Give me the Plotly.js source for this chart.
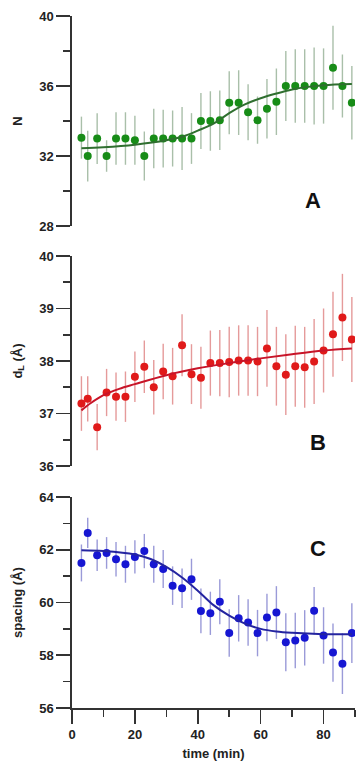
<!DOCTYPE html>
<html>
<head>
<meta charset="utf-8">
<script src="https://cdn.plot.ly/plotly-3.0.1.min.js"></script>
<style>html,body{margin:0;padding:0;background:#fff;}#chart{width:362px;height:761px;}</style>
</head>
<body>
<div id="chart"></div>
<script>
const time = [3,5,8,11,14,17,20,23,26,29,32,35,38,41,44,47,50,53,56,59,62,65,68,71,74,77,80,83,86,89];

const nValues = [33.05,32,33,32,33,33,32.9,32,33,33,33,33,33,34,34,34.05,35.05,35.05,34.5,34.05,34.7,35.1,36,36,36,36,36,37.05,36,35.05];
const nErr = [1.2,1.45,1.45,0.9,1.5,1.5,1.4,1.4,1.7,1.65,1.6,1.8,1.45,1.6,1.7,1.7,1.8,1.85,1.6,1.35,1.7,1.9,2.0,2.1,2.1,2.2,2.15,2.4,1.8,2.1];
const nFitTime = [3,10,20,30,35,40,45,50,55,60,65,70,75,80,89];
const nFit = [32.44,32.5,32.65,32.9,33.1,33.45,33.85,34.45,34.95,35.3,35.57,35.8,35.95,36.05,36.12];

const dlValues = [37.19,37.28,36.74,37.4,37.32,37.32,37.7,37.89,37.5,37.8,37.71,38.3,37.75,37.68,37.96,37.96,37.98,38.01,38.01,37.99,38.24,37.9,37.74,37.9,37.88,37.99,38.2,38.51,38.83,38.41];
const dlErr = [0.52,0.43,0.44,0.45,0.46,0.48,0.48,0.5,0.52,0.53,0.54,0.59,0.57,0.59,0.62,0.63,0.67,0.67,0.67,0.66,0.73,0.75,0.77,0.77,0.77,0.81,0.8,0.81,0.83,0.81];
const dlFitTime = [3,6,10,15,20,30,40,50,60,70,80,89];
const dlFit = [37.06,37.2,37.35,37.47,37.56,37.73,37.86,37.96,38.05,38.13,38.2,38.24];

const spValues = [61.5,62.64,61.79,61.88,61.64,61.45,61.73,61.95,61.45,61.27,60.64,60.54,60.88,59.68,59.59,60.03,58.84,59.4,59.24,58.84,59.43,59.62,58.49,58.56,58.66,59.69,58.75,58.1,57.68,58.84];
const spErr = [0.7,0.57,0.6,0.6,0.65,0.7,0.63,0.65,0.7,0.72,0.73,0.75,0.78,0.85,0.82,0.85,0.9,0.88,0.88,0.88,0.9,1.0,1.1,1.05,1.05,0.9,1.07,1.1,1.15,1.13];
const spFitTime = [3,10,20,25,30,35,40,45,50,55,60,65,70,80,89];
const spFit = [61.98,61.95,61.82,61.65,61.35,60.95,60.45,59.9,59.5,59.2,59.0,58.9,58.85,58.8,58.8];

const panelLabels = ['A','B','C'];
const yTitles = ['N','d<sub>L</sub> (Å)','spacing (Å)'];
const xTitle = 'time (min)';

const FONT = 'Liberation Sans, Arial, sans-serif';

function pts(y, err, color, errColor, ya) {
  return {x: time, y: y, type: 'scatter', mode: 'markers', xaxis: 'x', yaxis: ya,
    marker: {color: color, size: 8},
    error_y: {type: 'data', array: err, visible: true, color: errColor, thickness: 1.4, width: 0},
    hoverinfo: 'x+y', showlegend: false};
}
function fit(x, y, color, ya) {
  return {x: x, y: y, type: 'scatter', mode: 'lines', xaxis: 'x', yaxis: ya,
    line: {color: color, width: 2, shape: 'spline', smoothing: 1.0}, showlegend: false, hoverinfo: 'skip'};
}

const traces = [
  pts(nValues, nErr, '#178c17', '#a9bfa9', 'y'),
  fit(nFitTime, nFit, '#2f6f2f', 'y'),
  pts(dlValues, dlErr, '#e01a1a', '#e59a9a', 'y2'),
  fit(dlFitTime, dlFit, '#c81428', 'y2'),
  pts(spValues, spErr, '#1616d2', '#9a9ad8', 'y3'),
  fit(spFitTime, spFit, '#2424a0', 'y3')
];

function yax(domain, range, dtick, mdtick, title) {
  return {domain: domain, range: range, dtick: dtick, tick0: range[0], anchor: 'x',
    showline: true, linecolor: '#333', linewidth: 1.6, showgrid: false, zeroline: false,
    ticks: 'outside', ticklen: 14, tickwidth: 1.6, tickcolor: '#333',
    minor: {dtick: mdtick, tick0: range[0], ticks: 'outside', ticklen: 7, tickwidth: 1.6, tickcolor: '#333', showgrid: false},
    tickfont: {family: FONT, size: 13, color: '#222', weight: 'bold'},
    title: {text: title, font: {family: FONT, size: 13, color: '#222', weight: 'bold'}, standoff: 14},
    fixedrange: true};
}

const layout = {
  width: 362, height: 761,
  margin: {l: 72, r: 7, t: 16, b: 53},
  paper_bgcolor: '#fff', plot_bgcolor: '#fff',
  xaxis: {domain: [0, 1], range: [0, 90], anchor: 'y3', dtick: 20, tick0: 0,
    showline: true, linecolor: '#333', linewidth: 1.6, showgrid: false, zeroline: false,
    ticks: 'outside', ticklen: 14, tickwidth: 1.6, tickcolor: '#333',
    minor: {dtick: 10, tick0: 0, ticks: 'outside', ticklen: 7, tickwidth: 1.6, tickcolor: '#333', showgrid: false},
    tickfont: {family: FONT, size: 13, color: '#222', weight: 'bold'},
    title: {text: xTitle, font: {family: FONT, size: 13, color: '#222', weight: 'bold'}, standoff: 16},
    fixedrange: true},
  yaxis: yax([0.6965, 1], [28, 40], 4, 2, yTitles[0]),
  yaxis2: yax([0.3497, 0.6532], [36, 40], 1, 0.5, yTitles[1]),
  yaxis3: yax([0, 0.3049], [56, 64], 2, 1, yTitles[2]),
  annotations: [
    {text: panelLabels[0], xref: 'paper', yref: 'paper', x: 0.887, y: 0.754, showarrow: false, font: {family: FONT, size: 22, color: '#111', weight: 'bold'}},
    {text: panelLabels[1], xref: 'paper', yref: 'paper', x: 0.905, y: 0.384, showarrow: false, font: {family: FONT, size: 22, color: '#111', weight: 'bold'}},
    {text: panelLabels[2], xref: 'paper', yref: 'paper', x: 0.905, y: 0.2095, showarrow: false, font: {family: FONT, size: 22, color: '#111', weight: 'bold'}}
  ]
};

Plotly.newPlot('chart', traces, layout, {displayModeBar: false, staticPlot: true});
</script>
</body>
</html>
